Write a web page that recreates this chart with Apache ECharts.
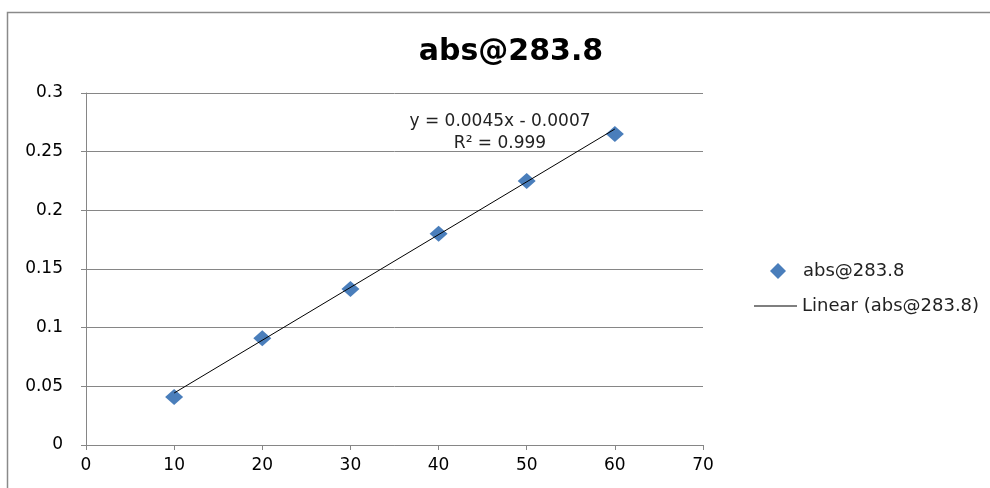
<!DOCTYPE html>
<html><head><meta charset="utf-8">
<script src="https://cdn.jsdelivr.net/npm/echarts@6/dist/echarts.min.js"></script>
<style>html,body{margin:0;padding:0;background:#fff}#c{width:990px;height:488px}</style>
</head><body><div id="c"></div>
<script>
const seriesName = 'abs@283.8';
const trendName = 'Linear (abs@283.8)';
const xValues = [10, 20, 30, 40, 50, 60];
const yValues = [0.041, 0.091, 0.133, 0.180, 0.225, 0.265];
const slope = 0.0045;
const intercept = -0.0007;
const trendX = [10, 60];
const eqText = 'y = 0.0045x - 0.0007';
const r2Text = 'R² = 0.999';

const font = '"DejaVu Sans", Verdana, sans-serif';
const chart = echarts.init(document.getElementById('c'));
chart.setOption({
  animation: false,
  title: {text: seriesName, left: 506, textAlign: 'center', top: 32,
    textStyle: {fontFamily: font, fontWeight: 'bold', fontSize: 30, color: '#000'}},
  grid: {left: 86, top: 93, width: 617, height: 352, containLabel: false},
  legend: [
    {orient: 'vertical', left: 765, top: 257, itemWidth: 16, itemHeight: 16,
      textStyle: {fontFamily: font, fontSize: 18, color: '#222', padding: [0, 0, 0, 12]},
      data: [{name: seriesName, icon: 'diamond', itemStyle: {color: '#4a7ebb'}}]},
    {orient: 'vertical', left: 749, top: 292, itemWidth: 43, itemHeight: 1,
      textStyle: {fontFamily: font, fontSize: 18, color: '#222'},
      data: [{name: trendName, icon: 'rect', itemStyle: {color: '#000'}}]}
  ],
  xAxis: {type: 'value', min: 0, max: 70, interval: 10,
    axisLine: {lineStyle: {color: '#868686'}},
    axisTick: {show: true, length: 5, lineStyle: {color: '#868686'}},
    splitLine: {show: false},
    axisLabel: {fontFamily: font, fontSize: 17, color: '#000', margin: 12}},
  yAxis: {type: 'value', min: 0, max: 0.3, interval: 0.05,
    axisLine: {show: true, lineStyle: {color: '#868686'}},
    axisTick: {show: true, length: 5, lineStyle: {color: '#868686'}},
    splitLine: {lineStyle: {color: '#868686'}},
    axisLabel: {fontFamily: font, fontSize: 17, color: '#000', margin: 23}},
  series: [
    {name: seriesName, type: 'scatter', symbol: 'diamond', symbolSize: [18, 16],
      itemStyle: {color: '#4a7ebb', opacity: 1},
      data: xValues.map((x, i) => [x, yValues[i]]), z: 2},
    {name: trendName, type: 'line', symbol: 'none', showSymbol: false,
      lineStyle: {color: '#000', width: 1}, itemStyle: {color: '#000'},
      data: trendX.map(x => [x, slope * x + intercept]), z: 3}
  ],
  graphic: [
    {type: 'rect', left: 5, top: 10, shape: {width: 1000, height: 500}, style: {fill: 'none', stroke: '#8a8a8a', lineWidth: 1.5}, silent: true},
    {type: 'text', style: {text: eqText, x: 500, y: 122, textAlign: 'center', textVerticalAlign: 'middle', fontFamily: font, fontSize: 17, fill: '#222'}},
    {type: 'text', style: {text: r2Text, x: 500, y: 144, textAlign: 'center', textVerticalAlign: 'middle', fontFamily: font, fontSize: 17, fill: '#222'}}
  ]
});
</script></body></html>
